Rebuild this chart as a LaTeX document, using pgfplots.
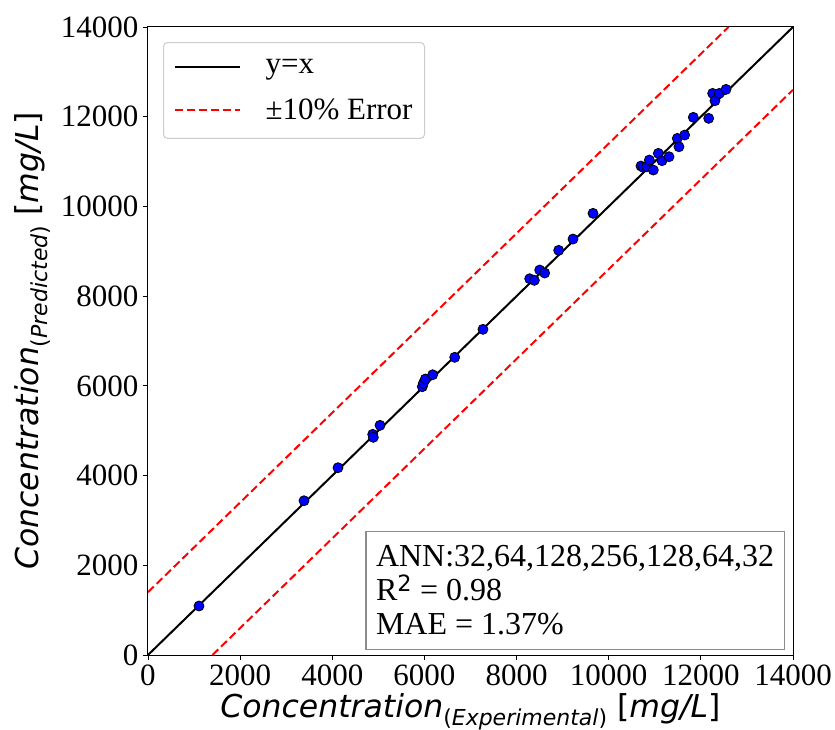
\documentclass[border=0pt]{standalone}
\usepackage{fontspec}
\setmainfont{Liberation Serif}
\newfontfamily\dejavu{DejaVu Sans}
\usepackage{pgfplots}
\pgfplotsset{compat=1.18}
\pgfplotstableread{
x y
1107 1092
3386 3439
4124 4175
4877 4919
4891 4852
5036 5120
5954 5981
5976 6056
6019 6152
6179 6248
6657 6636
7271 7260
8285 8388
8386 8352
8502 8582
8610 8515
8914 9021
9225 9273
9659 9846
10700 10900
10751 10871
10824 10885
10881 11034
10968 10811
11077 11183
11157 11019
11309 11108
11489 11517
11525 11330
11648 11591
11836 11986
12170 11963
12256 12520
12306 12356
12400 12520
12546 12609
}\pts
\begin{document}
\begin{tikzpicture}
\begin{axis}[
  at={(0,0)}, anchor=south west,
  width=645bp, height=628bp, scale only axis,
  xmin=0, xmax=14000, ymin=0, ymax=14000,
  xtick={0,2000,...,14000}, ytick={0,2000,...,14000},
  scaled ticks=false,
  /pgf/number format/assume math mode=true,
  /pgf/number format/1000 sep={},
  tick align=outside, xtick pos=bottom, ytick pos=left,
  major tick length=5bp,
  tick style={black, line width=0.8bp},
  ticklabel style={font=\fontsize{31bp}{35bp}\selectfont},
  xticklabel style={yshift=-1bp},
  yticklabel style={xshift=-1bp},
  axis line style={line width=1bp},
  xlabel={\dejavu\fontsize{31.5bp}{36bp}\selectfont\textit{Concentration}\raisebox{-0.28em}{\fontsize{22bp}{26bp}\selectfont(\textit{Experimental})} [\textit{mg/L}]},
  ylabel={\dejavu\fontsize{31.5bp}{36bp}\selectfont\textit{Concentration}\raisebox{-0.28em}{\fontsize{22bp}{26bp}\selectfont(\textit{Predicted})} [\textit{mg/L}]},
  xlabel style={at={([yshift=-62bp]axis description cs:0.5,0)}, anchor=base, inner sep=0pt},
  ylabel style={at={([xshift=-109bp]axis description cs:0,0.5)}, anchor=base, inner sep=0pt},
  legend style={at={(rel axis cs:0.0233,0.976)}, anchor=north west,
    draw=black!20, rounded corners=4bp, line width=1bp,
    font=\fontsize{31bp}{36bp}\selectfont,
    inner xsep=10bp, inner ysep=15bp, row sep=20bp,
    legend cell align=left},
  legend image code/.code={\draw[#1] (0bp,0bp) -- (65bp,0bp); \path (88bp,0bp);},
  clip=true,
]
\addplot[only marks, mark=*, mark size=5bp,
  mark options={fill=blue, draw=black, line width=0.8bp}, forget plot] table[x=x,y=y] {\pts};
\addplot[black, line width=2bp] coordinates {(0,0) (14000,14000)};
\addlegendentry{y=x}
\addplot[red, line width=2bp, dash pattern=on 8bp off 4bp] coordinates {(0,1400) (12600,14000)};
\addlegendentry{±10\% Error}
\addplot[red, line width=2bp, dash pattern=on 8bp off 4bp, forget plot] coordinates {(1400,0) (14000,12600)};
\node[draw=black!45, line width=1.5bp, fill=white, anchor=south east, align=left,
  inner xsep=10bp, inner ysep=14bp, font=\fontsize{32bp}{34bp}\selectfont]
  at ([xshift=-8bp, yshift=5bp]rel axis cs:1,0)
  {ANN:32,64,128,256,128,64,32\\R\textsuperscript{\dejavu 2} = 0.98\\MAE = 1.37\%};
\end{axis}
\pgfresetboundingbox
\path[use as bounding box] (-148bp,-75bp) rectangle (687bp,655bp);
\end{tikzpicture}
\end{document}
